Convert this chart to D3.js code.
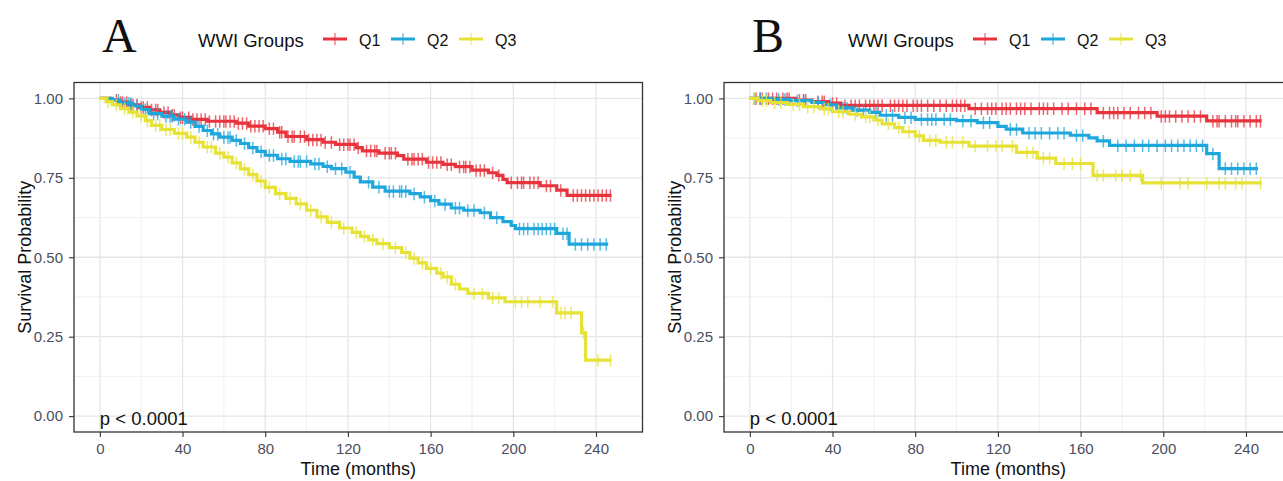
<!DOCTYPE html>
<html>
<head>
<meta charset="utf-8">
<script src="https://cdn.jsdelivr.net/npm/d3@7"></script>
<style>
  body { margin: 0; background: #fff; }
  svg { display: block; font-family: "Liberation Sans", Arial, sans-serif; }
</style>
</head>
<body>
<div id="chart"></div>
<script>
// Ticks / groups
const timeTicks = [0, 40, 80, 120, 160, 200, 240];
const survTicks = [0, 0.25, 0.5, 0.75, 1];
const groupNames = ["Q1", "Q2", "Q3"];
const groupColors = ["#E8333D", "#1FA7DC", "#E6E236"];

// Panel A - Kaplan-Meier steps (time, survival after step)
const aQ1Time = [0, 5, 9, 14, 19, 24, 29, 34, 38, 44, 52, 66, 72, 80, 86, 90, 100, 108, 114, 124, 127, 135, 144, 147, 158, 166, 172, 180, 188, 192, 195, 197, 213, 221, 226, 247.5];
const aQ1Surv = [1, 0.995, 0.988, 0.980, 0.972, 0.964, 0.956, 0.948, 0.940, 0.934, 0.928, 0.922, 0.913, 0.905, 0.894, 0.880, 0.870, 0.862, 0.855, 0.845, 0.835, 0.828, 0.820, 0.809, 0.799, 0.792, 0.785, 0.774, 0.766, 0.758, 0.745, 0.735, 0.725, 0.711, 0.695, 0.695];
const aQ2Time = [0, 6, 10, 16, 20, 24, 30, 36, 42, 46, 50, 54, 58, 64, 68, 72, 76, 80, 86, 92, 102, 108, 112, 119, 123, 126, 132, 138, 150, 155, 160, 164, 170, 176, 184, 189, 195, 199, 201, 221, 227, 245.9];
const aQ2Surv = [1, 0.995, 0.985, 0.976, 0.965, 0.952, 0.944, 0.935, 0.925, 0.912, 0.899, 0.888, 0.878, 0.868, 0.858, 0.845, 0.833, 0.821, 0.810, 0.802, 0.794, 0.786, 0.779, 0.768, 0.752, 0.737, 0.721, 0.708, 0.700, 0.690, 0.678, 0.667, 0.655, 0.648, 0.640, 0.625, 0.612, 0.600, 0.590, 0.575, 0.541, 0.541];
const aQ3Time = [0, 3, 6, 10, 14, 18, 22, 25, 30, 36, 42, 46, 50, 56, 60, 64, 68, 72, 76, 80, 85, 90, 95, 100, 105, 110, 116, 122, 126, 130, 134, 140, 146, 150, 154, 158, 163, 166, 170, 174, 178, 188, 196, 221, 233, 235, 247.5];
const aQ3Surv = [1, 0.990, 0.980, 0.968, 0.957, 0.945, 0.930, 0.915, 0.902, 0.890, 0.878, 0.862, 0.847, 0.828, 0.815, 0.797, 0.778, 0.760, 0.740, 0.720, 0.700, 0.685, 0.668, 0.648, 0.627, 0.610, 0.592, 0.578, 0.566, 0.555, 0.543, 0.530, 0.515, 0.497, 0.482, 0.465, 0.450, 0.438, 0.415, 0.400, 0.386, 0.372, 0.360, 0.325, 0.262, 0.176, 0.176];
// Panel A - censoring times
const aQ1Cens = [8, 10, 11, 13, 15, 16, 18, 20, 21, 23, 25, 27, 28, 31, 33, 35, 36, 39, 40, 43, 45, 47, 49, 51, 53, 56, 58, 60, 61, 63, 65, 67, 69, 71, 73, 75, 77, 79, 82, 84, 87, 88, 91, 93, 94, 97, 99, 101, 103, 105, 107, 109, 112, 116, 118, 120, 121, 123, 125, 129, 131, 133, 134, 138, 140, 141, 143, 149, 151, 152, 154, 156, 159, 161, 163, 165, 168, 170, 174, 176, 177, 179, 182, 184, 186, 190, 193, 199, 202, 204, 205, 208, 210, 212, 216, 218, 223, 229, 231, 233, 235, 237, 239, 241, 243, 245, 247];
const aQ2Cens = [9, 12, 14, 15, 18, 22, 26, 28, 32, 34, 35, 38, 41, 44, 48, 52, 55, 57, 60, 62, 63, 66, 70, 74, 78, 82, 84, 88, 90, 94, 96, 97, 100, 104, 106, 110, 114, 117, 121, 130, 135, 140, 142, 145, 146, 148, 152, 157, 162, 167, 172, 174, 178, 181, 186, 192, 203, 205, 207, 210, 212, 214, 216, 218, 220, 224, 226, 230, 233, 236, 239, 242, 245];
const aQ3Cens = [4, 8, 12, 16, 20, 23, 27, 29, 32, 34, 38, 40, 44, 48, 52, 54, 58, 62, 66, 70, 74, 78, 82, 87, 92, 97, 102, 107, 112, 118, 124, 128, 132, 137, 143, 148, 152, 156, 160, 165, 168, 172, 181, 185, 190, 193, 201, 204, 207, 213, 219, 223, 225, 228, 234, 241, 247];

// Panel B - Kaplan-Meier steps
const bQ1Time = [0, 22, 30, 38, 44, 106, 168, 197, 221, 247.6];
const bQ1Surv = [1, 0.995, 0.990, 0.985, 0.978, 0.968, 0.955, 0.944, 0.929, 0.929];
const bQ2Time = [0, 12, 20, 30, 36, 42, 50, 58, 63, 72, 80, 100, 110, 120, 124, 132, 155, 164, 168, 174, 221, 227, 245.8];
const bQ2Surv = [1, 0.997, 0.993, 0.987, 0.980, 0.970, 0.963, 0.956, 0.947, 0.940, 0.934, 0.930, 0.924, 0.912, 0.903, 0.891, 0.884, 0.876, 0.866, 0.852, 0.826, 0.779, 0.779];
const bQ3Time = [0, 4, 10, 18, 26, 34, 40, 48, 54, 60, 64, 70, 74, 80, 84, 92, 106, 129, 139, 148, 166, 190, 247.6];
const bQ3Surv = [1, 0.993, 0.987, 0.981, 0.974, 0.967, 0.958, 0.950, 0.942, 0.932, 0.920, 0.908, 0.895, 0.882, 0.868, 0.862, 0.850, 0.830, 0.812, 0.795, 0.758, 0.734, 0.734];
// Panel B - censoring times
const bQ1Cens = [3, 5, 6, 9, 11, 13, 16, 18, 19, 24, 26, 27, 33, 35, 36, 40, 42, 46, 49, 51, 53, 56, 58, 60, 62, 64, 68, 70, 72, 74, 76, 79, 81, 83, 86, 89, 92, 95, 98, 100, 102, 104, 109, 112, 115, 117, 119, 122, 124, 126, 129, 131, 133, 136, 140, 142, 144, 147, 151, 154, 158, 162, 165, 171, 174, 176, 178, 181, 184, 188, 191, 194, 199, 201, 203, 206, 209, 212, 215, 218, 224, 226, 227, 230, 233, 235, 236, 239, 242, 245, 247];
const bQ2Cens = [2, 5, 8, 14, 17, 23, 26, 33, 39, 45, 47, 52, 55, 61, 66, 69, 75, 78, 83, 86, 88, 90, 94, 97, 103, 107, 113, 116, 126, 129, 135, 138, 141, 145, 149, 152, 158, 161, 171, 178, 182, 186, 190, 193, 197, 201, 204, 207, 210, 213, 216, 219, 224, 230, 233, 236, 239, 242, 245];
const bQ3Cens = [2, 6, 8, 12, 15, 21, 24, 28, 31, 36, 38, 43, 45, 51, 56, 58, 62, 67, 72, 77, 82, 87, 90, 95, 98, 103, 109, 115, 119, 122, 127, 134, 137, 142, 145, 152, 156, 160, 168, 171, 177, 180, 184, 189, 199, 208, 212, 221, 227, 230, 235, 238, 247];

const panelA = [
  { time: aQ1Time, surv: aQ1Surv, cens: aQ1Cens },
  { time: aQ2Time, surv: aQ2Surv, cens: aQ2Cens },
  { time: aQ3Time, surv: aQ3Surv, cens: aQ3Cens }
];
const panelB = [
  { time: bQ1Time, surv: bQ1Surv, cens: bQ1Cens },
  { time: bQ2Time, surv: bQ2Surv, cens: bQ2Cens },
  { time: bQ3Time, surv: bQ3Surv, cens: bQ3Cens }
];

const W = 1283, H = 481;
const svg = d3.select("#chart").append("svg")
  .attr("width", W)
  .attr("height", H);

// Same scales for both panels, panel B is shifted
const x = d3.scaleLinear().domain([-12.5, 262.5]).range([74, 642.5]);
const y = d3.scaleLinear().domain([-0.05, 1.05]).range([432, 82.5]);

// value of step curve at time t
function survAt(g, t) {
  let s = g.surv[0];
  for (let i = 0; i < g.time.length; i++) {
    if (g.time[i] <= t) s = g.surv[i];
  }
  return s;
}

function drawPanel(dx, letter, series, id) {
  const G = svg.append("g").attr("transform", `translate(${dx},0)`);

  G.append("clipPath").attr("id", "clip" + id)
    .append("rect")
    .attr("x", x.range()[0]).attr("y", y.range()[1])
    .attr("width", x.range()[1] - x.range()[0])
    .attr("height", y.range()[0] - y.range()[1]);

  // grid - minor then major
  const minorX = [20, 60, 100, 140, 180, 220];
  const minorY = [0.125, 0.375, 0.625, 0.875];
  G.selectAll(".minx").data(minorX).join("line")
    .attr("x1", d => x(d)).attr("x2", d => x(d))
    .attr("y1", y.range()[1]).attr("y2", y.range()[0])
    .attr("stroke", "#ececec").attr("stroke-width", 0.8);
  G.selectAll(".miny").data(minorY).join("line")
    .attr("x1", x.range()[0]).attr("x2", x.range()[1])
    .attr("y1", d => y(d)).attr("y2", d => y(d))
    .attr("stroke", "#ececec").attr("stroke-width", 0.8);
  G.selectAll(".majx").data(timeTicks).join("line")
    .attr("x1", d => x(d)).attr("x2", d => x(d))
    .attr("y1", y.range()[1]).attr("y2", y.range()[0])
    .attr("stroke", "#e6e6e6").attr("stroke-width", 1.3);
  G.selectAll(".majy").data(survTicks).join("line")
    .attr("x1", x.range()[0]).attr("x2", x.range()[1])
    .attr("y1", d => y(d)).attr("y2", d => y(d))
    .attr("stroke", "#e6e6e6").attr("stroke-width", 1.3);

  const plot = G.append("g").attr("clip-path", `url(#clip${id})`);
  const line = d3.line()
    .x(d => x(d[0])).y(d => y(d[1]))
    .curve(d3.curveStepAfter);

  series.forEach((g, i) => {
    const pts = g.time.map((t, k) => [t, g.surv[k]]);
    plot.append("path")
      .attr("d", line(pts))
      .attr("fill", "none")
      .attr("stroke", groupColors[i])
      .attr("stroke-width", 3.2);
    plot.selectAll(null).data(g.cens).join("line")
      .attr("x1", t => x(t)).attr("x2", t => x(t))
      .attr("y1", t => y(survAt(g, t)) - 6)
      .attr("y2", t => y(survAt(g, t)) + 6.5)
      .attr("stroke", groupColors[i])
      .attr("stroke-opacity", 0.75)
      .attr("stroke-width", 1.5);
  });

  // panel border
  G.append("rect")
    .attr("x", x.range()[0]).attr("y", y.range()[1])
    .attr("width", x.range()[1] - x.range()[0])
    .attr("height", y.range()[0] - y.range()[1])
    .attr("fill", "none").attr("stroke", "#333").attr("stroke-width", 1.3);

  // axes
  const ax = G.append("g").attr("transform", `translate(0,${y.range()[0]})`)
    .call(d3.axisBottom(x).tickValues(timeTicks).tickSize(5).tickPadding(6));
  const ay = G.append("g").attr("transform", `translate(${x.range()[0]},0)`)
    .call(d3.axisLeft(y).tickValues(survTicks).tickFormat(d3.format(".2f")).tickSize(5).tickPadding(6));
  [ax, ay].forEach(a => {
    a.select(".domain").remove();
    a.selectAll(".tick line").attr("stroke", "#333").attr("stroke-width", 1.1);
    a.selectAll(".tick text")
      .attr("fill", "#4b4e5c")
      .style("font-size", "15px")
      .style("font-family", "'Liberation Sans', Arial, sans-serif");
  });

  // axis titles
  G.append("text")
    .attr("transform", `translate(31,${(y.range()[0] + y.range()[1]) / 2}) rotate(-90)`)
    .attr("text-anchor", "middle")
    .style("font-size", "18px")
    .attr("fill", "#111")
    .text("Survival Probability");
  G.append("text")
    .attr("x", (x.range()[0] + x.range()[1]) / 2)
    .attr("y", 475)
    .attr("text-anchor", "middle")
    .style("font-size", "18px")
    .attr("fill", "#111")
    .text("Time (months)");

  // p value
  G.append("text")
    .attr("x", x(0))
    .attr("y", 425)
    .style("font-size", "18.5px")
    .attr("fill", "#111")
    .text("p < 0.0001");

  // panel letter
  G.append("text")
    .attr("x", 102)
    .attr("y", 52)
    .style("font-family", "'Liberation Serif', 'Times New Roman', serif")
    .style("font-size", "48px")
    .attr("fill", "#111")
    .text(letter);

  // legend
  const leg = G.append("g");
  leg.append("text")
    .attr("x", 198).attr("y", 47)
    .style("font-size", "18.5px")
    .attr("fill", "#111")
    .text("WWI Groups");
  const keyX = [323, 391, 459];
  groupNames.forEach((name, i) => {
    leg.append("line")
      .attr("x1", keyX[i]).attr("x2", keyX[i] + 24)
      .attr("y1", 39).attr("y2", 39)
      .attr("stroke", groupColors[i]).attr("stroke-width", 3);
    leg.append("line")
      .attr("x1", keyX[i] + 12).attr("x2", keyX[i] + 12)
      .attr("y1", 33).attr("y2", 45)
      .attr("stroke", groupColors[i]).attr("stroke-opacity", 0.7).attr("stroke-width", 1.3);
    leg.append("text")
      .attr("x", keyX[i] + 36).attr("y", 46)
      .style("font-size", "16px")
      .attr("fill", "#111")
      .text(name);
  });
}

drawPanel(0, "A", panelA, "a");
drawPanel(650, "B", panelB, "b");
</script>
</body>
</html>
